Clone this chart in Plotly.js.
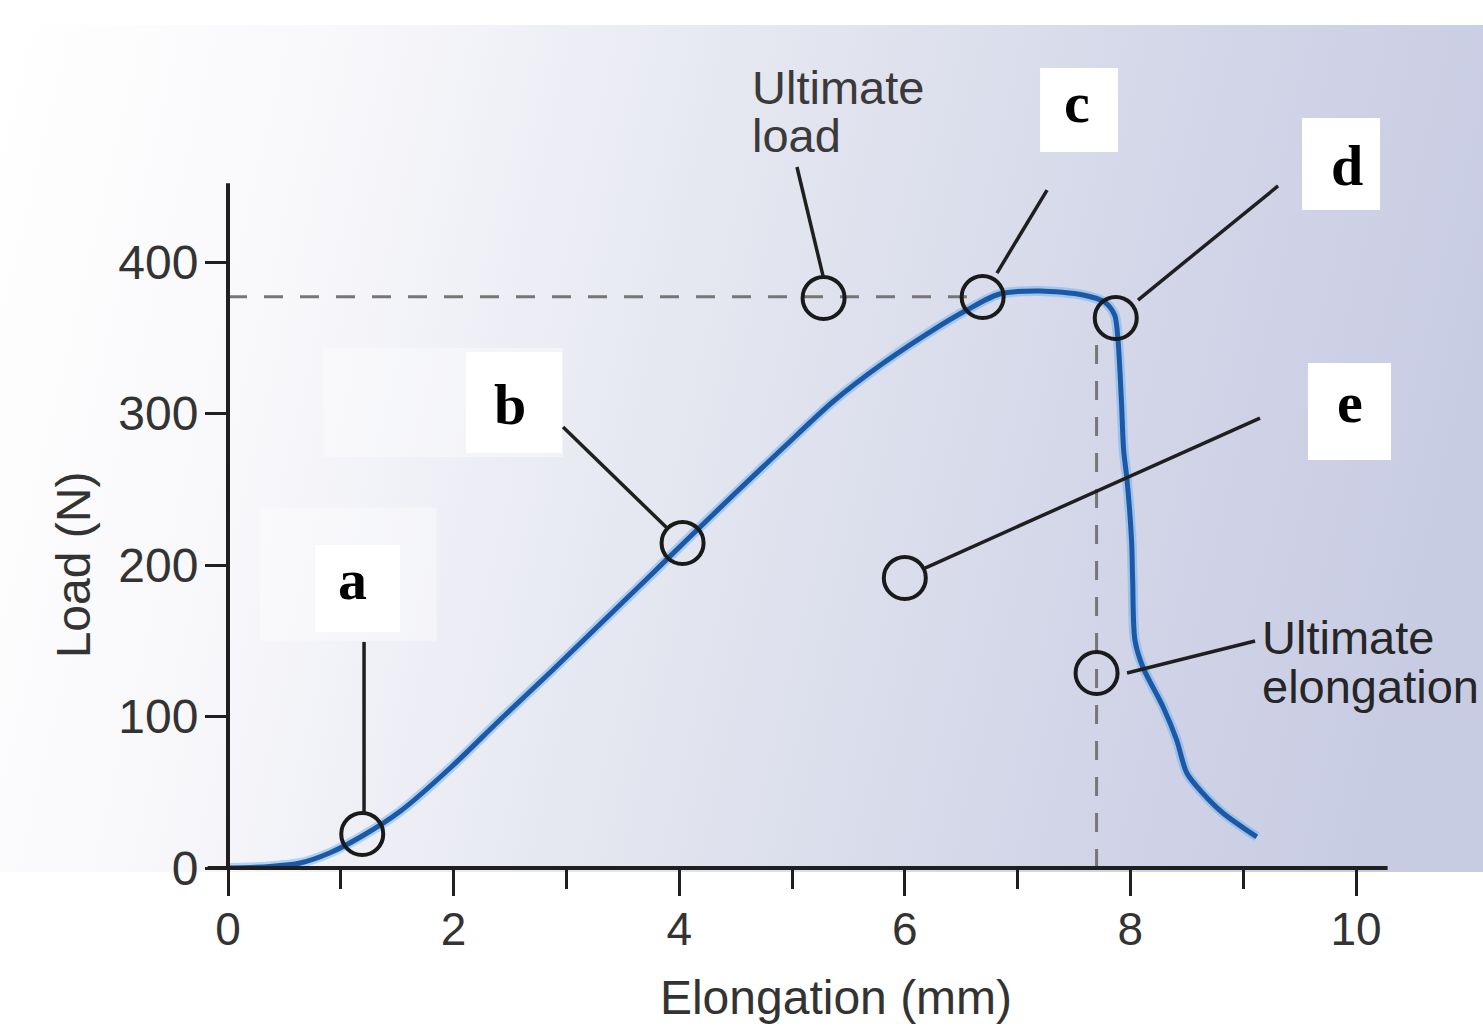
<!DOCTYPE html>
<html>
<head>
<meta charset="utf-8">
<script src="https://cdn.plot.ly/plotly-3.0.1.min.js"></script>
<style>
  html, body { margin: 0; padding: 0; background: #ffffff; }
  #chart { width: 1483px; height: 1029px; }
</style>
</head>
<body>
<div id="chart"></div>
<script>
// ---------------- DATA ----------------
// Load–elongation curve
const elongation = [0, 0.37, 0.64, 0.90, 1.19, 1.53, 1.97, 2.41, 2.86, 3.30,
                    3.74, 4.03, 4.48, 4.92, 5.36, 5.81, 6.25, 6.55, 6.84, 7.20,
                    7.58, 7.77, 7.86, 7.89, 7.92, 7.94, 7.97, 8.01, 8.02, 8.04,
                    8.11, 8.29, 8.41, 8.50, 8.64, 8.82, 9.12];
const load = [0, 1.0, 3.3, 9.9, 21.1, 37.6, 66.0, 97.7, 129.4, 161.1,
              192.7, 213.9, 246.2, 277.2, 307.6, 333.3, 355.1, 368.3, 378.9, 380.9,
              378.2, 373.6, 365.0, 348.5, 308.9, 275.9, 256.1, 216.5, 190.1, 150.5,
              132.7, 106.3, 84.5, 62.7, 49.5, 36.3, 20.5];

// Circled points
const pointNames = ['a', 'b', 'Ultimate load', 'c', 'd', 'e', 'Ultimate elongation'];
const pointX = [1.19, 4.03, 5.28, 6.69, 7.87, 6.00, 7.70];
const pointY = [22.4, 214.5, 376.2, 376.9, 363.0, 191.4, 128.7];

// Reference values (dashed guide lines)
const ultimateLoad = 377;        // N
const ultimateLoadEndX = 6.55;   // mm, where the horizontal guide meets the curve
const ultimateElongation = 7.70; // mm
const ultimateElongationTopY = 350; // N, top of the vertical guide

// Ticks
const xTicks = [0, 2, 4, 6, 8, 10];
const xTickLabels = ['0', '2', '4', '6', '8', '10'];
const xMinorTicks = [1, 3, 5, 7, 9];
const yTicks = [0, 100, 200, 300, 400];
const yTickLabels = ['0', '100', '200', '300', '400'];

// Letter labels
const letterText = ['a', 'b', 'c', 'd', 'e'];

// ---------------- GEOMETRY / STYLE ----------------
const XMAX = 10.78, YMAX = 400;
const PX_W = 1216, PX_H = 606, PX_L = 228, PX_T = 262;
const px = v => v / XMAX;   // data x -> paper
const py = v => v / YMAX;   // data y -> paper

// leader lines, data units [x0, y0, x1, y1]
const leaders = [
  [1.206, 149.2, 1.206, 36.3],
  [2.970, 291.1, 3.892, 224.4],
  [5.044, 462.7, 5.275, 390.8],
  [7.261, 447.5, 6.817, 392.7],
  [9.309, 450.2, 8.067, 374.9],
  [9.149, 297.0, 6.179, 198.0],
  [9.105, 149.8, 7.970, 128.7]
];
// white label boxes, data units
const boxes = [
  {x0: 0.771, x1: 1.525, y0: 155.8, y1: 213.2},
  {x0: 2.110, x1: 2.961, y0: 273.9, y1: 340.6},
  {x0: 7.199, x1: 7.890, y0: 472.6, y1: 528.1},
  {x0: 9.521, x1: 10.213, y0: 434.3, y1: 495.0},
  {x0: 9.574, x1: 10.310, y0: 269.3, y1: 333.3}
];
const faintBoxes = [
  {x0: 0.842, x1: 2.970, y0: 271.3, y1: 343.2},
  {x0: 0.28, x1: 1.85, y0: 150.0, y1: 238.0}
];
const letterPos = [[1.10, 190.5], [2.50, 306.0], [7.527, 505.5], [9.920, 464.0], [9.947, 307.5]];

// background gradient image
function makeBg() {
  const c = document.createElement('canvas');
  c.width = 1483; c.height = 847;
  const ctx = c.getContext('2d');
  const g = ctx.createLinearGradient(0, 0, 1483, 350);
  g.addColorStop(0.0, '#ffffff');
  g.addColorStop(0.22, '#f8f8fb');
  g.addColorStop(0.5, '#e4e6f0');
  g.addColorStop(0.78, '#d3d6e8');
  g.addColorStop(1.0, '#c8cce3');
  ctx.fillStyle = g;
  ctx.fillRect(0, 0, 1483, 847);
  return c.toDataURL('image/png');
}

// ---------------- TRACES ----------------
const traces = [
  { // soft halo of the curve
    x: elongation, y: load, type: 'scatter', mode: 'lines',
    line: {color: 'rgba(100,170,238,0.45)', width: 10, shape: 'spline', smoothing: 0.8},
    cliponaxis: false, hoverinfo: 'skip', showlegend: false
  },
  {
    x: elongation, y: load, type: 'scatter', mode: 'lines', name: 'Load',
    line: {color: '#1b58a5', width: 5, shape: 'spline', smoothing: 0.8},
    cliponaxis: false, showlegend: false
  },
  { // ultimate load guide
    x: [0, ultimateLoadEndX], y: [ultimateLoad, ultimateLoad],
    type: 'scatter', mode: 'lines',
    line: {color: '#767676', width: 3, dash: '19px,17px'},
    hoverinfo: 'skip', showlegend: false
  },
  { // ultimate elongation guide
    x: [ultimateElongation, ultimateElongation], y: [0, ultimateElongationTopY],
    type: 'scatter', mode: 'lines',
    line: {color: '#767676', width: 3, dash: '19px,17px'},
    hoverinfo: 'skip', showlegend: false
  },
  {
    x: pointX, y: pointY, text: pointNames, type: 'scatter', mode: 'markers',
    marker: {symbol: 'circle', size: 42, color: 'rgba(0,0,0,0)', line: {color: '#1a1a1a', width: 4}},
    cliponaxis: false, showlegend: false, hoverinfo: 'text'
  }
];

// ---------------- SHAPES ----------------
const shapes = [];
faintBoxes.forEach(b => shapes.push({
  type: 'rect', xref: 'paper', yref: 'paper', layer: 'below',
  x0: px(b.x0), x1: px(b.x1), y0: py(b.y0), y1: py(b.y1),
  fillcolor: 'rgba(255,255,255,0.4)', line: {width: 0}
}));
boxes.forEach(b => shapes.push({
  type: 'rect', xref: 'paper', yref: 'paper', layer: 'below',
  x0: px(b.x0), x1: px(b.x1), y0: py(b.y0), y1: py(b.y1),
  fillcolor: '#ffffff', line: {width: 0}
}));
leaders.forEach(l => shapes.push({
  type: 'line', xref: 'paper', yref: 'paper', layer: 'above',
  x0: px(l[0]), y0: py(l[1]), x1: px(l[2]), y1: py(l[3]),
  line: {color: '#1f1f1f', width: 3.5}
}));
// axis lines
shapes.push({type: 'line', xref: 'paper', yref: 'paper', layer: 'above',
  x0: px(-0.18), x1: px(10.28), y0: 0, y1: 0, line: {color: '#1f1f1f', width: 4}});
shapes.push({type: 'line', xref: 'paper', yref: 'paper', layer: 'above',
  x0: 0, x1: 0, y0: 0, y1: py(452), line: {color: '#1f1f1f', width: 4}});

// ---------------- ANNOTATIONS ----------------
const annotations = [];
letterText.forEach((t, i) => annotations.push({
  text: t, xref: 'paper', yref: 'paper', x: px(letterPos[i][0]), y: py(letterPos[i][1]),
  xanchor: 'center', yanchor: 'middle', showarrow: false,
  font: {family: '"Liberation Serif", "Times New Roman", serif', size: 58, color: '#000000', weight: 'bold'}
}));
const sansLabel = (text, x, y, color) => ({
  text: text, xref: 'paper', yref: 'paper', x: px(x), y: py(y),
  xanchor: 'left', yanchor: 'middle', showarrow: false,
  font: {family: '"Liberation Sans", Arial, sans-serif', size: 47, color: color}
});
annotations.push(sansLabel('Ultimate', 4.63, 515.5, '#3a3a3a'));
annotations.push(sansLabel('load', 4.63, 483.4, '#3a3a3a'));
annotations.push(sansLabel('Ultimate', 9.15, 152.0, '#262626'));
annotations.push(sansLabel('elongation', 9.15, 119.5, '#262626'));

// ---------------- LAYOUT ----------------
const layout = {
  width: 1483, height: 1029,
  margin: {l: PX_L, r: 1483 - PX_L - PX_W, t: PX_T, b: 1029 - PX_T - PX_H, pad: 0},
  paper_bgcolor: '#ffffff',
  plot_bgcolor: 'rgba(0,0,0,0)',
  showlegend: false,
  font: {family: '"Liberation Sans", Arial, sans-serif', color: '#333333'},
  xaxis: {
    range: [0, XMAX], showgrid: false, zeroline: false, showline: false, fixedrange: true,
    tickmode: 'array', tickvals: xTicks, ticktext: xTickLabels,
    ticks: 'outside', ticklen: 27, tickwidth: 3, tickcolor: '#1f1f1f',
    tickfont: {size: 46, color: '#333333'}, ticklabelstandoff: -6,
    minor: {tickmode: 'array', tickvals: xMinorTicks, ticks: 'outside', ticklen: 20, tickwidth: 3, tickcolor: '#1f1f1f', showgrid: false},
    title: {text: 'Elongation (mm)', font: {size: 48, color: '#333333'}, standoff: 26}
  },
  yaxis: {
    range: [0, YMAX], showgrid: false, zeroline: false, showline: false, fixedrange: true,
    tickmode: 'array', tickvals: yTicks, ticktext: yTickLabels,
    ticks: 'outside', ticklen: 22, tickwidth: 3, tickcolor: '#1f1f1f',
    tickfont: {size: 48, color: '#333333'}, ticklabelstandoff: -3,
    title: {text: 'Load (N)', font: {size: 48, color: '#333333'}, standoff: 12}
  },
  images: [{
    source: makeBg(), xref: 'paper', yref: 'paper',
    x: -PX_L / PX_W, y: (PX_T + PX_H - 25) / PX_H,
    sizex: 1483 / PX_W, sizey: 847 / PX_H,
    xanchor: 'left', yanchor: 'top', sizing: 'stretch', layer: 'below'
  }],
  shapes: shapes,
  annotations: annotations
};

Plotly.newPlot('chart', traces, layout, {displayModeBar: false, staticPlot: true});
</script>
</body>
</html>
